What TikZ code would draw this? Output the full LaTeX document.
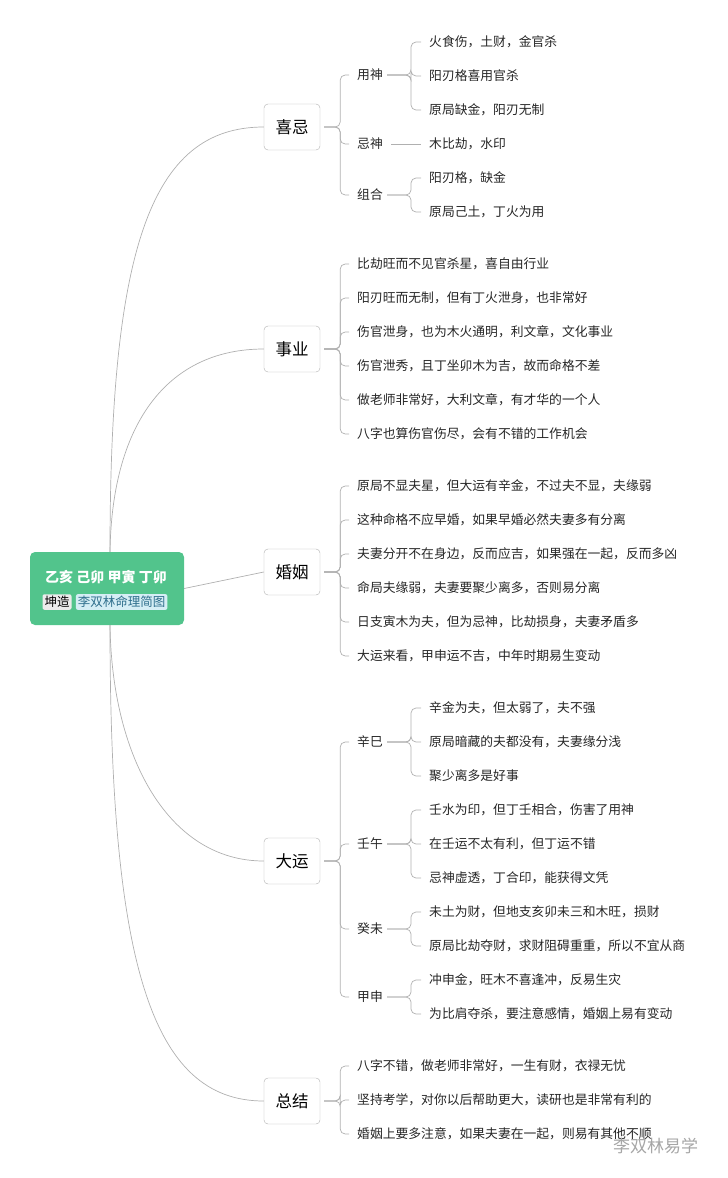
\documentclass[tikz,border=0pt]{standalone}
\usepackage{fontspec}
\setmainfont{Noto Sans CJK SC}
\usetikzlibrary{positioning}
\definecolor{rootgreen}{HTML}{52C48C}
\definecolor{linegray}{HTML}{B0B0B0}
\definecolor{tagblue}{HTML}{D5EEF5}
\definecolor{tagtext}{HTML}{2E6E8C}
\tikzset{
  link/.style={draw=linegray, line width=0.7pt, rounded corners=5pt},
  topic/.style={draw=linegray, fill=white, rounded corners=4pt, minimum width=56pt, minimum height=46pt, font=\fontsize{16.5}{18}\selectfont},
  leaf/.style={anchor=west, inner sep=0pt, font=\fontsize{12.8}{14}\selectfont, text=black!85},
}
\newcommand\branch[3]{\draw[link] ([xshift=4pt]#1.east) -- ([xshift=#3]#1.east) |- ([xshift=-8pt]#2.west);}
\begin{document}
\begin{tikzpicture}[x=1pt,y=-1pt]
\useasboundingbox (0,0) rectangle (728,1178);
% root
\node[fill=rootgreen, rounded corners=5pt, minimum width=154pt, minimum height=73pt] (root) at (107,588.5) {};
\node[text=white, inner sep=0pt, font=\fontsize{14}{16}\selectfont\bfseries] (pillars) at (106,577) {乙亥 己卯 甲寅 丁卯};
\node[fill=white!92!black, rounded corners=2pt, inner sep=2pt, font=\fontsize{12.5}{14}\selectfont] (tag1) at (57,602) {坤造};
\node[fill=tagblue, text=tagtext, rounded corners=2pt, inner sep=2pt, font=\fontsize{12.5}{14}\selectfont, right=4pt of tag1] (tag2) {李双林命理简图};

% main topics
\node[topic] (xiji) at (292,127) {喜忌};
\node[topic] (shiye) at (292,349) {事业};
\node[topic] (hunyin) at (292,572) {婚姻};
\node[topic] (dayun) at (292,861) {大运};
\node[topic] (zongjie) at (292,1101) {总结};

\draw[link] ([xshift=3pt]root.north) .. controls (110,250) and (150,127) .. (xiji.west);
\draw[link] ([xshift=3pt]root.north) .. controls (112,420) and (170,349) .. (shiye.west);
\draw[link] (root.east) -- (hunyin.west);
\draw[link] ([xshift=3pt]root.south) .. controls (112,760) and (170,861) .. (dayun.west);
\draw[link] ([xshift=3pt]root.south) .. controls (110,960) and (150,1101) .. (zongjie.west);

% 喜忌
\node[leaf] (yong) at (357,75) {用神};
\node[leaf] (ji) at (357,144) {忌神};
\node[leaf] (zu) at (357,195) {组合};
\foreach \c in {yong,ji,zu} {\branch{xiji}{\c}{20pt}}
\node[leaf] (y1) at (429,42) {火食伤，土财，金官杀};
\node[leaf] (y2) at (429,76) {阳刃格喜用官杀};
\node[leaf] (y3) at (429,110) {原局缺金，阳刃无制};
\node[leaf] (j1) at (429,144) {木比劫，水印};
\node[leaf] (z1) at (429,178) {阳刃格，缺金};
\node[leaf] (z2) at (429,212) {原局己土，丁火为用};
\foreach \c in {y1,y2,y3} {\branch{yong}{\c}{28pt}}
\draw[link] ([xshift=8pt]ji.east) -- ([xshift=-8pt]j1.west);
\foreach \c in {z1,z2} {\branch{zu}{\c}{28pt}}

% 事业
\node[leaf] (s1) at (357,264) {比劫旺而不见官杀星，喜自由行业};
\node[leaf] (s2) at (357,298) {阳刃旺而无制，但有丁火泄身，也非常好};
\node[leaf] (s3) at (357,332) {伤官泄身，也为木火通明，利文章，文化事业};
\node[leaf] (s4) at (357,366) {伤官泄秀，且丁坐卯木为吉，故而命格不差};
\node[leaf] (s5) at (357,400) {做老师非常好，大利文章，有才华的一个人};
\node[leaf] (s6) at (357,434) {八字也算伤官伤尽，会有不错的工作机会};
\foreach \c in {s1,s2,s3,s4,s5,s6} {\branch{shiye}{\c}{20pt}}

% 婚姻
\node[leaf] (h1) at (357,486) {原局不显夫星，但大运有辛金，不过夫不显，夫缘弱};
\node[leaf] (h2) at (357,520) {这种命格不应早婚，如果早婚必然夫妻多有分离};
\node[leaf] (h3) at (357,554) {夫妻分开不在身边，反而应吉，如果强在一起，反而多凶};
\node[leaf] (h4) at (357,588) {命局夫缘弱，夫妻要聚少离多，否则易分离};
\node[leaf] (h5) at (357,622) {日支寅木为夫，但为忌神，比劫损身，夫妻矛盾多};
\node[leaf] (h6) at (357,656) {大运来看，甲申运不吉，中年时期易生变动};
\foreach \c in {h1,h2,h3,h4,h5,h6} {\branch{hunyin}{\c}{20pt}}

% 大运
\node[leaf] (xinsi) at (357,742) {辛巳};
\node[leaf] (renwu) at (357,844) {壬午};
\node[leaf] (guiwei) at (357,929) {癸未};
\node[leaf] (jiashen) at (357,997) {甲申};
\foreach \c in {xinsi,renwu,guiwei,jiashen} {\branch{dayun}{\c}{20pt}}
\node[leaf] (a1) at (429,708) {辛金为夫，但太弱了，夫不强};
\node[leaf] (a2) at (429,742) {原局暗藏的夫都没有，夫妻缘分浅};
\node[leaf] (a3) at (429,776) {聚少离多是好事};
\foreach \c in {a1,a2,a3} {\branch{xinsi}{\c}{28pt}}
\node[leaf] (b1) at (429,810) {壬水为印，但丁壬相合，伤害了用神};
\node[leaf] (b2) at (429,844) {在壬运不太有利，但丁运不错};
\node[leaf] (b3) at (429,878) {忌神虚透，丁合印，能获得文凭};
\foreach \c in {b1,b2,b3} {\branch{renwu}{\c}{28pt}}
\node[leaf] (c1) at (429,912) {未土为财，但地支亥卯未三和木旺，损财};
\node[leaf] (c2) at (429,946) {原局比劫夺财，求财阻碍重重，所以不宜从商};
\foreach \c in {c1,c2} {\branch{guiwei}{\c}{28pt}}
\node[leaf] (d1) at (429,980) {冲申金，旺木不喜逢冲，反易生灾};
\node[leaf] (d2) at (429,1014) {为比肩夺杀，要注意感情，婚姻上易有变动};
\foreach \c in {d1,d2} {\branch{jiashen}{\c}{28pt}}

% 总结
\node[leaf] (t1) at (357,1066) {八字不错，做老师非常好，一生有财，衣禄无忧};
\node[leaf] (t2) at (357,1100) {坚持考学，对你以后帮助更大，读研也是非常有利的};
\node[leaf] (t3) at (357,1134) {婚姻上要多注意，如果夫妻在一起，则易有其他不顺};
\foreach \c in {t1,t2,t3} {\branch{zongjie}{\c}{20pt}}

% watermark
\node[text=black!35, font=\fontsize{17}{19}\selectfont, anchor=west, inner sep=0pt] (mark) at (613,1146) {李双林易学};
\end{tikzpicture}
\end{document}
